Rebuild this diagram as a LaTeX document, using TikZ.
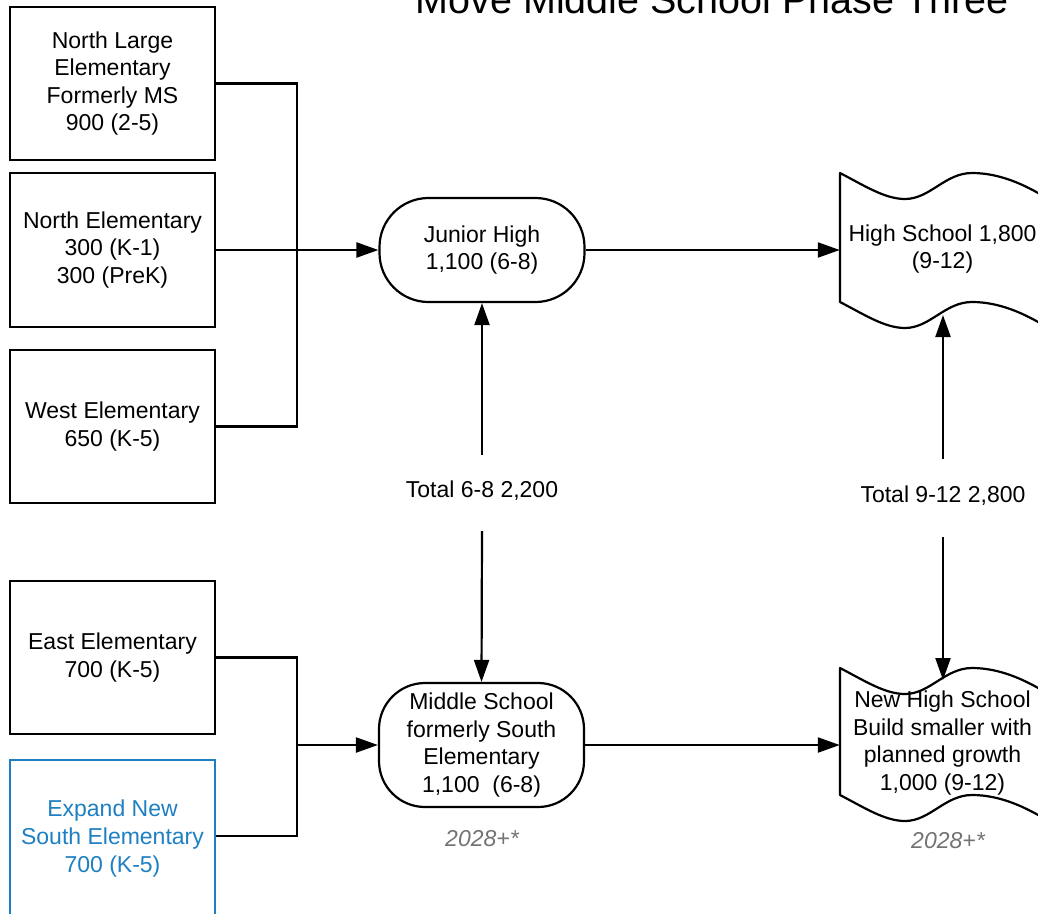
\documentclass[tikz,border=0pt]{standalone}
\usepackage{fontspec}
\setmainfont{Liberation Sans}
\usetikzlibrary{arrows.meta}
\definecolor{bluebox}{RGB}{30,128,194}
\definecolor{graytxt}{RGB}{115,115,115}
\newcommand{\mybody}{\fontsize{23}{27.6}\selectfont}
\newcommand{\mytitle}{\fontsize{39.5}{46}\selectfont}
\begin{document}
\begin{tikzpicture}[x=1pt,y=-1pt,
  lw/.style={line width=2.2pt},
  schoolbox/.style={draw, lw, rectangle, minimum width=205pt, minimum height=153pt, inner sep=0pt, align=center, font=\mybody},
  roundbox/.style={draw, lw, rectangle, minimum width=205pt, inner sep=0pt, align=center, font=\mybody},
  plain/.style={inner sep=0pt, align=center, font=\mybody},
  conn/.style={lw},
  arr/.style={lw, -{Triangle[length=22pt,width=15pt]}},
  note/.style={font=\mybody\itshape, text=graytxt},
]
\useasboundingbox (0,0) rectangle (1038,913);

% title
\node[anchor=base, font=\mytitle] (title) at (712,13) {Move Middle School Phase Three};

% left boxes
\node[schoolbox] (nl) at (112.5,83.5) {North Large\\Elementary\\Formerly MS\\900 (2-5)};
\node[schoolbox, minimum height=154pt] (ne) at (112.5,250) {North Elementary\\300 (K-1)\\300 (PreK)};
\node[schoolbox] (we) at (112.5,426.5) {West Elementary\\650 (K-5)};
\node[schoolbox] (ea) at (112.5,657.5) {East Elementary\\700 (K-5)};
\node[schoolbox, draw=bluebox, text=bluebox, minimum height=157pt] (ex) at (112.5,838.5) {Expand New\\South Elementary\\700 (K-5)};

% middle column
\node[roundbox, rounded corners=49pt, minimum height=104pt] (jh) at (482,250) {Junior High\\1,100 (6-8)};
\node[roundbox, rounded corners=46pt, minimum height=124pt] (ms) at (481.5,745) {Middle School\\formerly South\\Elementary\\1,100~ (6-8)};
\node[plain, minimum height=76pt] (t68) at (482,491) {Total 6-8 2,200};
\node[note] (d1) at (482,839) {2028+*};

% right column: tape shapes
\draw[lw, line join=round] (840,173) .. controls (865,186) and (885,199) .. (905,199)
  .. controls (930,199) and (945,173) .. (972,173)
  .. controls (1000,173) and (1025,185) .. (1045,197) -- (1045,326)
  .. controls (1025,314) and (1000,302) .. (972,302)
  .. controls (945,302) and (930,328) .. (905,328)
  .. controls (885,328) and (865,315) .. (840,302) -- cycle;
\draw[lw, line join=round] (840,668) .. controls (865,681) and (885,694) .. (905,694)
  .. controls (930,694) and (945,668) .. (972,668)
  .. controls (1000,668) and (1025,680) .. (1045,692) -- (1045,819)
  .. controls (1025,807) and (1000,795) .. (972,795)
  .. controls (945,795) and (930,821) .. (905,821)
  .. controls (885,821) and (865,808) .. (840,795) -- cycle;
\node[plain, minimum width=205pt] (hs) at (942.5,249) {High School 1,800\\(9-12)};
\node[plain, minimum width=205pt] (nhs) at (942.5,743) {New High School\\Build smaller with\\planned growth\\1,000 (9-12)};
\node[plain, minimum height=78pt] (t912) at (943,496) {Total 9-12 2,800};
\node[note] (d2) at (948,841) {2028+*};
\coordinate (hsb) at (943,315);
\coordinate (nhst) at (943,680);

% junctions
\coordinate (j1) at (297,250);
\coordinate (j2) at (297,745);

% connectors
\draw[conn] (nl.east) -| (j1);
\draw[conn] (we.east) -| (j1);
\draw[arr] (ne.east) -- (jh.west);
\draw[conn] (ea.east) -| (j2);
\draw[conn] (ex.east |- 836,836) -| (j2);
\draw[arr] (j2) -- (ms.west);
\draw[arr] ([yshift=-2pt]t68.north) -- (jh.south);
\draw[arr] ([yshift=-2pt]t68.south) -- (ms.north);
\draw[arr] (jh.east) -- (jh.east -| hs.west);
\draw[arr] (ms.east) -- (ms.east -| nhs.west);
\draw[arr] ([yshift=-2pt]t912.north) -- (hsb);
\draw[arr] ([yshift=-2pt]t912.south) -- (nhst);
\end{tikzpicture}
\end{document}
